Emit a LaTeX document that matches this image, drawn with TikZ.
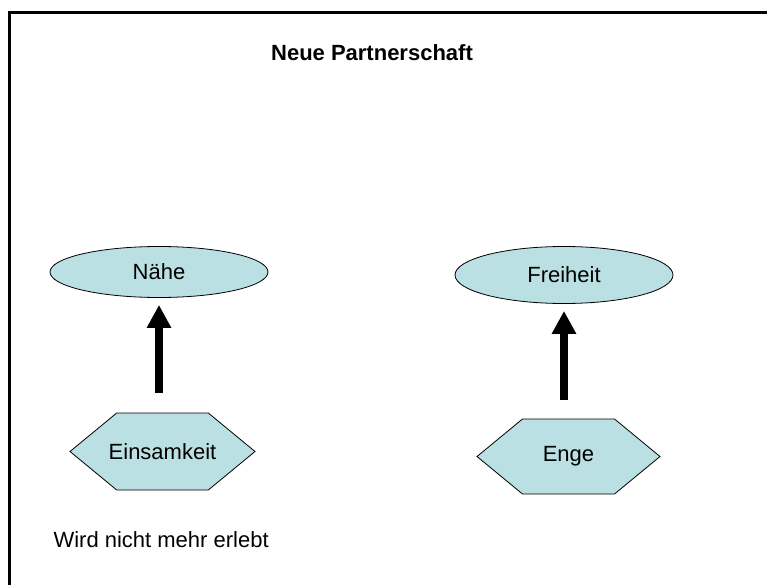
\documentclass[tikz,border=0pt]{standalone}
\usepackage{fontspec}
\setmainfont{Liberation Sans}
\usetikzlibrary{shapes.geometric,shapes.symbols,arrows.meta}
\definecolor{boxfill}{RGB}{187,224,227}
\tikzset{
  lbl/.style={font=\fontsize{22pt}{26pt}\selectfont, text=black},
  oval/.style={ellipse, draw=black, line width=0.8pt, fill=boxfill, inner sep=0pt, lbl},
  hexa/.style={signal, signal to=west and east, signal pointer angle=79, draw=black, line width=0.8pt, fill=boxfill, inner sep=0pt, lbl},
  bigarrow/.style={line width=8pt, black, -{Triangle[width=23pt,length=23pt]}},
  frameline/.style={line width=3pt, black}
}
\begin{document}
\begin{tikzpicture}[x=1pt,y=-1pt]
\useasboundingbox (0,0) rectangle (767,585);
\draw[frameline] (9,585) -- (9,13) -- (767,13);
\node[lbl, font=\fontsize{22pt}{26pt}\selectfont\bfseries] (title) at (372,53) {Neue Partnerschaft};
\node[oval, minimum width=218pt, minimum height=51pt] (nahe) at (159,272) {Nähe};
\node[oval, minimum width=218pt, minimum height=57pt] (frei) at (564,275) {Freiheit};
\node[hexa, inner xsep=-8pt, minimum width=185pt, minimum height=77pt] (ein) at (162.5,451.5) {Einsamkeit};
\node[hexa, minimum width=183pt, minimum height=75pt] (enge) at (568.5,456.5) {Enge};
\node[lbl, anchor=west] (wird) at (50,540) {Wird nicht mehr erlebt};
\draw[bigarrow, shorten <=20pt, shorten >=7pt] (ein.north -| nahe.south) -- (nahe.south);
\draw[bigarrow, shorten <=19pt, shorten >=7pt] (enge.north -| frei.south) -- (frei.south);
\end{tikzpicture}
\end{document}
